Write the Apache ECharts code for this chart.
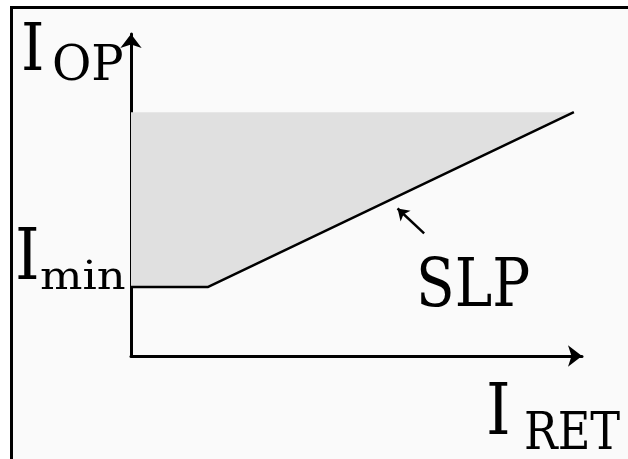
<!DOCTYPE html>
<html>
<head>
<meta charset="utf-8">
<script src="https://cdn.jsdelivr.net/npm/echarts@6/dist/echarts.min.js"></script>
<style>
  html, body { margin: 0; padding: 0; background: #fff; }
  #frame {
    position: absolute; left: 10px; top: 6px; width: 618px; height: 453px;
    border-top: 3px solid #000; border-left: 3px solid #000; background: #fafafa;
  }
  #chart { position: absolute; left: 0; top: 0; width: 628px; height: 459px; }
</style>
</head>
<body>
<div id="frame"></div>
<div id="chart"></div>
<script>
// characteristic: flat at Imin, then rising slope (SLP)
const curveX = [0, 1.70, 9.82]
const curveY = [2.14, 2.14, 7.57]
// upper edge of the shaded operate region
const shadeTop = 7.57
// SLP pointer: tail -> head
const pointerX = [6.50, 5.91]
const pointerY = [3.81, 4.58]

const chart = echarts.init(document.getElementById('chart'))
const font = '"DejaVu Serif", serif'

function txt(text, x, y, size, sx) {
  return {
    type: 'text', x, y, scaleX: sx, z: 10,
    style: { text, font: size + 'px ' + font, fill: '#000', align: 'left', verticalAlign: 'middle' }
  }
}

const axisLine = {
  show: true,
  symbol: ['none', 'arrow'],
  symbolSize: [16, 14],
  lineStyle: { color: '#000', width: 3 }
}

const option = {
  backgroundColor: 'transparent',
  animation: false,
  grid: { left: 131, top: 34, width: 451, height: 322 },
  xAxis: {
    type: 'value', min: 0, max: 10,
    axisLine, axisTick: { show: false }, axisLabel: { show: false }, splitLine: { show: false }
  },
  yAxis: {
    type: 'value', min: 0, max: 10,
    axisLine, axisTick: { show: false }, axisLabel: { show: false }, splitLine: { show: false }
  },
  series: [
    {
      type: 'custom',
      data: [0],
      silent: true,
      z: 1,
      renderItem(params, api) {
        const n = curveX.length
        const pts = [api.coord([curveX[0], shadeTop])]
        for (let i = 0; i < n; i++) pts.push(api.coord([curveX[i], curveY[i]]))
        pts.push(api.coord([curveX[n - 1], shadeTop]))
        return { type: 'polygon', shape: { points: pts }, style: { fill: '#e0e0e0' } }
      }
    },
    {
      type: 'line',
      z: 3,
      showSymbol: false,
      lineStyle: { color: '#000', width: 2.5 },
      data: curveX.map((x, i) => [x, curveY[i]]),
      markLine: {
        silent: true,
        symbol: ['none', 'arrow'],
        symbolSize: [11, 11],
        label: { show: false },
        lineStyle: { color: '#000', width: 2.5, type: 'solid' },
        data: [[
          { coord: [pointerX[0], pointerY[0]] },
          { coord: [pointerX[1], pointerY[1]] }
        ]]
      }
    }
  ],
  graphic: [
    txt('I', 21, 53, 66, 0.9),
    txt('OP', 52, 68, 48, 1.0),
    txt('I', 15, 261, 71, 0.88),
    txt('min', 40, 279, 40, 1.12),
    txt('SLP', 416, 288, 68, 0.83),
    txt('I', 486, 416, 71, 0.88),
    txt('RET', 524, 435, 52, 0.86)
  ]
}

chart.setOption(option)
</script>
</body>
</html>
